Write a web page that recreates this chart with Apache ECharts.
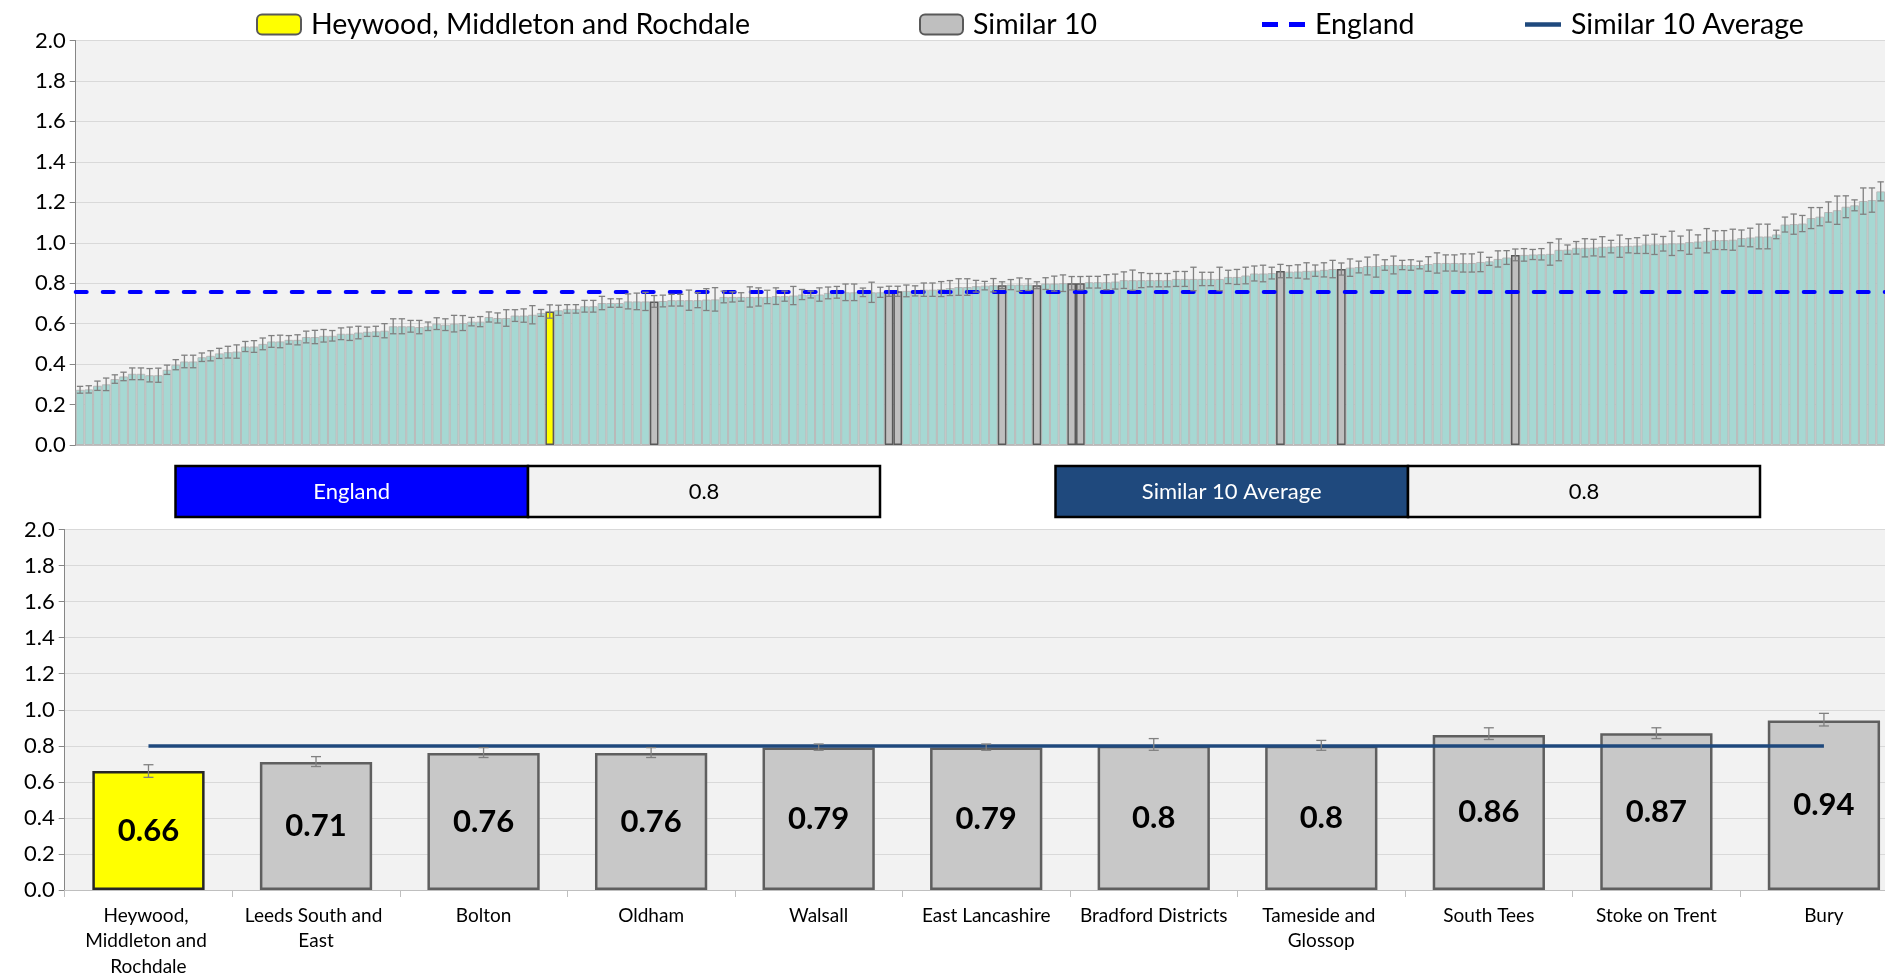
<!DOCTYPE html>
<html><head><meta charset="utf-8">
<script src="https://cdn.jsdelivr.net/npm/echarts@6/dist/echarts.min.js"></script>
<style>html,body{margin:0;padding:0;background:#fff}#c{width:1885px;height:973px}</style>
</head><body><div id="c"></div>
<script>
// ---------- DATA ----------
const targetName = 'Heywood, Middleton and Rochdale';
const similarName = 'Similar 10';
const englandName = 'England';
const avgName = 'Similar 10 Average';

// ranked values of all areas (top chart)
const rankValues = [
0.273,0.275,0.293,0.300,0.326,0.339,0.352,0.352,0.345,0.345,
0.372,0.397,0.413,0.413,0.434,0.441,0.453,0.459,0.462,0.487,
0.487,0.500,0.512,0.512,0.520,0.520,0.534,0.534,0.540,0.540,
0.550,0.550,0.556,0.560,0.562,0.565,0.587,0.587,0.587,0.583,
0.587,0.600,0.595,0.600,0.603,0.610,0.610,0.633,0.628,0.628,
0.640,0.640,0.644,0.653,0.660,0.666,0.673,0.673,0.686,0.686,
0.702,0.702,0.702,0.710,0.710,0.710,0.710,0.712,0.716,0.716,
0.716,0.716,0.719,0.720,0.732,0.732,0.732,0.732,0.732,0.732,
0.736,0.736,0.739,0.744,0.744,0.744,0.752,0.755,0.755,0.755,
0.755,0.755,0.755,0.760,0.760,0.762,0.762,0.768,0.768,0.771,
0.776,0.781,0.781,0.785,0.788,0.790,0.790,0.793,0.793,0.793,
0.790,0.798,0.798,0.800,0.800,0.800,0.805,0.805,0.805,0.808,
0.815,0.815,0.815,0.815,0.815,0.815,0.821,0.821,0.821,0.821,
0.821,0.821,0.831,0.831,0.838,0.848,0.848,0.850,0.860,0.857,
0.858,0.861,0.862,0.866,0.870,0.870,0.877,0.880,0.885,0.885,
0.890,0.890,0.890,0.890,0.890,0.895,0.900,0.900,0.900,0.900,
0.900,0.905,0.908,0.920,0.927,0.940,0.940,0.942,0.943,0.945,
0.965,0.966,0.975,0.975,0.976,0.980,0.981,0.983,0.985,0.986,
0.992,0.992,0.995,0.997,0.997,1.003,1.006,1.010,1.013,1.013,
1.015,1.023,1.026,1.031,1.031,1.041,1.090,1.092,1.095,1.122,
1.129,1.152,1.161,1.178,1.185,1.206,1.211,1.254];

// confidence interval half-widths for the ranked values
const rankCI = [
0.017,0.018,0.023,0.031,0.021,0.021,0.029,0.029,0.033,0.035,
0.023,0.025,0.031,0.031,0.021,0.025,0.025,0.029,0.033,0.025,
0.029,0.029,0.029,0.031,0.021,0.025,0.029,0.033,0.031,0.026,
0.029,0.033,0.031,0.023,0.025,0.035,0.037,0.037,0.029,0.033,
0.021,0.029,0.029,0.041,0.037,0.021,0.025,0.025,0.025,0.041,
0.029,0.033,0.045,0.017,0.033,0.025,0.021,0.021,0.029,0.029,
0.033,0.021,0.021,0.037,0.041,0.045,0.029,0.029,0.029,0.029,
0.050,0.037,0.054,0.058,0.029,0.025,0.021,0.050,0.045,0.033,
0.041,0.025,0.045,0.025,0.017,0.033,0.029,0.029,0.041,0.041,
0.021,0.050,0.025,0.025,0.025,0.029,0.025,0.033,0.033,0.037,
0.037,0.041,0.041,0.029,0.021,0.033,0.017,0.025,0.033,0.029,
0.017,0.029,0.037,0.041,0.033,0.033,0.029,0.029,0.037,0.037,
0.041,0.050,0.037,0.033,0.033,0.033,0.037,0.037,0.058,0.033,
0.033,0.058,0.033,0.037,0.041,0.037,0.041,0.029,0.033,0.030,
0.033,0.040,0.028,0.035,0.043,0.030,0.043,0.029,0.044,0.055,
0.026,0.044,0.023,0.026,0.019,0.036,0.050,0.040,0.040,0.045,
0.045,0.048,0.020,0.040,0.034,0.029,0.031,0.025,0.028,0.056,
0.054,0.023,0.031,0.045,0.041,0.050,0.031,0.055,0.035,0.039,
0.045,0.050,0.036,0.060,0.036,0.060,0.033,0.060,0.046,0.047,
0.052,0.040,0.046,0.061,0.061,0.021,0.037,0.050,0.040,0.052,
0.045,0.050,0.070,0.054,0.027,0.065,0.060,0.047];

const targetRankIdx = 54;
const similarRankIdx = [66, 93, 94, 106, 110, 114, 115, 138, 145, 165];

const englandValue = 0.76;
const similarAvg = 0.80;

// bottom chart
const areaNames = ['Heywood, Middleton and Rochdale','Leeds South and East','Bolton','Oldham','Walsall',
  'East Lancashire','Bradford Districts','Tameside and Glossop','South Tees','Stoke on Trent','Bury'];
const areaValues = [0.66, 0.71, 0.76, 0.76, 0.79, 0.79, 0.8, 0.8, 0.86, 0.87, 0.94];
const areaLow  = [0.625, 0.685, 0.735, 0.735, 0.775, 0.775, 0.775, 0.775, 0.835, 0.84, 0.91];
const areaHigh = [0.695, 0.74, 0.79, 0.79, 0.81, 0.81, 0.84, 0.83, 0.90, 0.90, 0.98];

// ---------- CHART ----------
const FONT = 'Lato, "Open Sans", sans-serif';
const rankCats = rankValues.map((_, i) => String(i + 1));
const isSim = new Set(similarRankIdx);

function errRender(capHalf, color, w) {
  return function (params, api) {
    const x = api.value(0);
    const lo = api.coord([x, api.value(1)]);
    const hi = api.coord([x, api.value(2)]);
    const st = { stroke: color, lineWidth: w };
    return { type: 'group', children: [
      { type: 'line', shape: { x1: lo[0], y1: lo[1], x2: hi[0], y2: hi[1] }, style: st },
      { type: 'line', shape: { x1: hi[0] - capHalf, y1: hi[1], x2: hi[0] + capHalf, y2: hi[1] }, style: st },
      { type: 'line', shape: { x1: lo[0] - capHalf, y1: lo[1], x2: lo[0] + capHalf, y2: lo[1] }, style: st }
    ]};
  };
}

const yAxisCommon = {
  type: 'value', min: 0, max: 2, interval: 0.2,
  axisLine: { show: true, lineStyle: { color: '#868686', width: 1 } },
  axisTick: { show: true, length: 6, lineStyle: { color: '#868686' } },
  splitLine: { show: true, lineStyle: { color: '#d9d9d9', width: 1.2 } },
  axisLabel: { fontFamily: FONT, fontSize: 22, color: '#000', formatter: v => v.toFixed(1), margin: 10 }
};

const legendCommon = {
  top: 10, padding: 0, itemWidth: 44, itemHeight: 20, orient: 'horizontal',
  textStyle: { fontFamily: FONT, fontSize: 28.5, color: '#000', padding: [0, 0, 0, 5] },
  selectedMode: false
};

const option = {
  backgroundColor: '#fff',
  animation: false,
  legend: [
    Object.assign({}, legendCommon, { left: 256, data: [targetName] }),
    Object.assign({}, legendCommon, { left: 919, itemWidth: 43, data: [similarName] }),
    Object.assign({}, legendCommon, { left: 1262, itemWidth: 43, itemHeight: 5,
      itemStyle: { borderWidth: 0 },
      data: [{ name: englandName, icon: 'path://M0,0h16v5h-16z M27,0h16v5h-16z' }] }),
    Object.assign({}, legendCommon, { left: 1525, itemWidth: 36, itemHeight: 4.5,
      itemStyle: { borderWidth: 0 },
      data: [{ name: avgName, icon: 'rect' }] })
  ],
  grid: [
    { left: 75.7, top: 40.5, width: 1809.3, height: 404.5, show: true, backgroundColor: '#f2f2f2', borderWidth: 0,
      containLabel: false, outerBoundsMode: 'none' },
    { left: 64.7, top: 529.5, width: 1843, height: 360.5, show: true, backgroundColor: '#f2f2f2', borderWidth: 0,
      containLabel: false, outerBoundsMode: 'none' }
  ],
  xAxis: [
    { type: 'category', gridIndex: 0, data: rankCats,
      axisLine: { show: true, lineStyle: { color: '#bfbfbf' } },
      axisTick: { show: false }, axisLabel: { show: false }, splitLine: { show: false } },
    { type: 'category', gridIndex: 1, data: areaNames,
      axisLine: { show: true, lineStyle: { color: '#bfbfbf', width: 1.2 } },
      axisTick: { show: true, length: 7, lineStyle: { color: '#bfbfbf' } },
      axisLabel: { fontFamily: FONT, fontSize: 19, color: '#000', lineHeight: 25.5, margin: 13,
        width: 158, overflow: 'break', interval: 0 } }
  ],
  yAxis: [
    Object.assign({}, yAxisCommon, { gridIndex: 0 }),
    Object.assign({}, yAxisCommon, { gridIndex: 1 })
  ],
  series: [
    { name: 'All areas', type: 'bar', xAxisIndex: 0, yAxisIndex: 0,
      barWidth: '100%', barGap: '-100%',
      data: rankValues.map((v, i) => (i === targetRankIdx || isSim.has(i)) ? '-' : v),
      itemStyle: { color: '#a6d8d3', borderColor: '#b9b9b9', borderWidth: 1 } },
    { name: targetName, type: 'bar', xAxisIndex: 0, yAxisIndex: 0,
      barWidth: '100%', barGap: '-100%', z: 3,
      data: rankValues.map((v, i) => i === targetRankIdx ? v : '-'),
      itemStyle: { color: '#ffff00', borderColor: '#595959', borderWidth: 1.5 } },
    { name: similarName, type: 'bar', xAxisIndex: 0, yAxisIndex: 0,
      barWidth: '100%', barGap: '-100%', z: 3,
      data: rankValues.map((v, i) => isSim.has(i) ? v : '-'),
      itemStyle: { color: '#bfbfbf', borderColor: '#595959', borderWidth: 1.5 } },
    { name: 'rank CI', type: 'custom', xAxisIndex: 0, yAxisIndex: 0, z: 5,
      renderItem: errRender(3.2, '#808080', 1.3),
      encode: { x: 0, y: [1, 2] },
      data: rankValues.map((v, i) => [i, v - rankCI[i], v + rankCI[i]]) },
    { name: englandName, type: 'line', xAxisIndex: 0, yAxisIndex: 0, data: [], symbol: 'none',
      itemStyle: { color: '#0000ff' },
      lineStyle: { color: '#0000ff', width: 4, type: [11, 16], cap: 'round' },
      markLine: { silent: true, symbol: 'none', label: { show: false },
        lineStyle: { color: '#0000ff', width: 4, type: [11, 16], cap: 'round' },
        data: [{ yAxis: englandValue }] }, z: 6 },

    { name: 'Areas', type: 'bar', xAxisIndex: 1, yAxisIndex: 1, barCategoryGap: '33%',
      data: areaValues.map((v, i) => ({ value: v,
        itemStyle: i === 0 ? { color: '#ffff00', borderColor: '#262626', borderWidth: 2.5 }
                           : { color: '#c8c8c8', borderColor: '#5f5f5f', borderWidth: 2.5 } })),
      label: { show: true, position: 'inside', fontFamily: FONT, fontWeight: 'bold', fontSize: 31, color: '#000',
        formatter: p => String(p.value) } },
    { name: 'area CI', type: 'custom', xAxisIndex: 1, yAxisIndex: 1, z: 5,
      renderItem: errRender(5, '#808080', 1.3),
      encode: { x: 0, y: [1, 2] },
      data: areaValues.map((v, i) => [i, areaLow[i], areaHigh[i]]) },
    { name: avgName, type: 'line', xAxisIndex: 1, yAxisIndex: 1, data: [], symbol: 'none',
      itemStyle: { color: '#1f497d' },
      lineStyle: { color: '#1f497d', width: 4 },
      markLine: { silent: true, symbol: 'none', label: { show: false },
        lineStyle: { color: '#1f497d', width: 3.5, type: 'solid' },
        data: [[{ coord: [areaNames[0], similarAvg] }, { coord: [areaNames[areaNames.length - 1], similarAvg] }]] }, z: 6 }
  ],
  graphic: [
    { type: 'rect', shape: { x: 175.5, y: 466, width: 352.5, height: 51 }, style: { fill: '#0000ff', stroke: '#000', lineWidth: 2.5 } },
    { type: 'rect', shape: { x: 528, y: 466, width: 352, height: 51 }, style: { fill: '#f2f2f2', stroke: '#000', lineWidth: 2.5 } },
    { type: 'text', x: 351.7, y: 491.5, style: { text: englandName, fill: '#fff', font: '22px ' + FONT, align: 'center', verticalAlign: 'middle' } },
    { type: 'text', x: 704, y: 491.5, style: { text: englandValue.toFixed(1), fill: '#000', font: '22px ' + FONT, align: 'center', verticalAlign: 'middle' } },
    { type: 'rect', shape: { x: 1055.5, y: 466, width: 352.5, height: 51 }, style: { fill: '#1f497d', stroke: '#000', lineWidth: 2.5 } },
    { type: 'rect', shape: { x: 1408, y: 466, width: 352, height: 51 }, style: { fill: '#f2f2f2', stroke: '#000', lineWidth: 2.5 } },
    { type: 'text', x: 1231.7, y: 491.5, style: { text: avgName, fill: '#fff', font: '22px ' + FONT, align: 'center', verticalAlign: 'middle' } },
    { type: 'text', x: 1584, y: 491.5, style: { text: similarAvg.toFixed(1), fill: '#000', font: '22px ' + FONT, align: 'center', verticalAlign: 'middle' } }
  ]
};

const chart = echarts.init(document.getElementById('c'), null, { renderer: 'canvas' });
chart.setOption(option);
</script>
</body></html>
